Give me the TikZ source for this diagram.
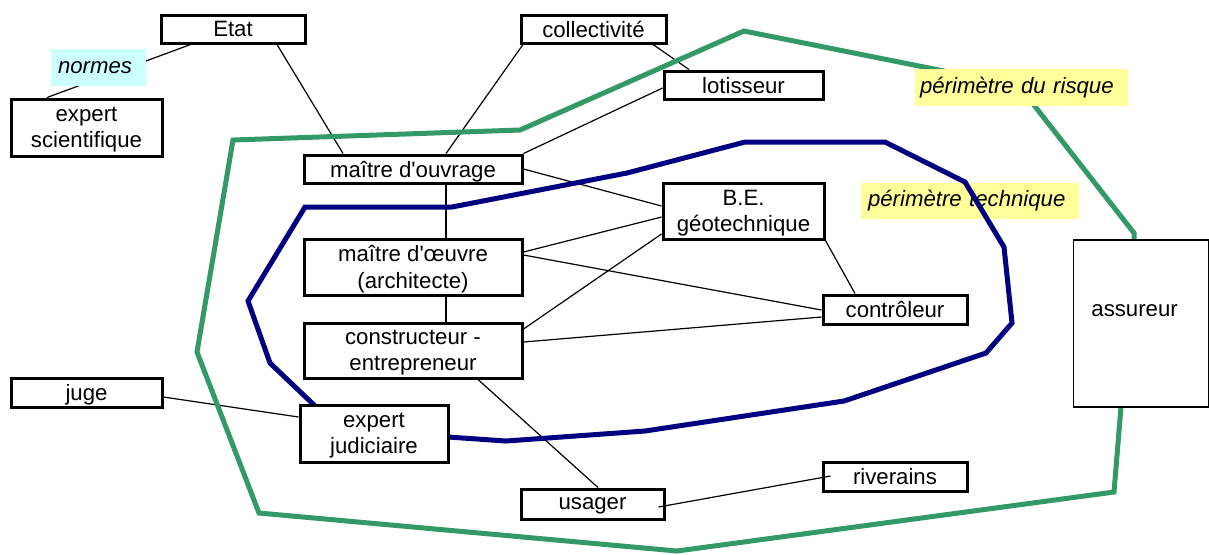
\documentclass[tikz,border=0pt]{standalone}
\usepackage{fontspec}
\setmainfont{Liberation Sans}
\usetikzlibrary{calc}
\definecolor{riskgreen}{HTML}{339966}
\definecolor{technavy}{HTML}{000080}
\definecolor{normcyan}{HTML}{CCFFFF}
\definecolor{labelyellow}{HTML}{FFFF99}
\pgfdeclarelayer{background}
\pgfsetlayers{background,main}
\begin{document}
\begin{tikzpicture}[x=0.5pt,y=-0.5pt,
  txt/.style={font=\fontsize{11.1}{13.2}\selectfont},
  box/.style={txt, draw=black, line width=1.5pt, fill=white, inner sep=0pt, align=center, text depth=0pt},
  link/.style={draw=black, line width=0.6pt},
  tag/.style={txt, font=\fontsize{11.1}{13.2}\selectfont\itshape, align=left, inner ysep=0pt},
  perim/.style={line width=2.5pt, miter limit=10},
]
\useasboundingbox (0,0) rectangle (1209,554);

% boxes
\node[box, minimum width=72pt, minimum height=14pt] (etat) at (233,29) {Etat};
\node[box, minimum width=72.5pt, minimum height=14pt] (coll) at (593.5,29) {collectivité};
\node[box, minimum width=79.5pt, minimum height=14pt] (lot) at (743.5,85) {lotisseur};
\node[box, minimum width=75.5pt, minimum height=28.5pt] (expsci) at (86.5,127.5) {expert\\scientifique};
\node[box, minimum width=109pt, minimum height=14pt] (mo) at (413,169) {maître d\textquotesingle ouvrage};
\node[box, minimum width=80.5pt, minimum height=28pt] (be) at (743.5,211) {B.E.\\géotechnique};
\node[box, minimum width=109pt, minimum height=28pt] (moe) at (413,267) {maître d\textquotesingle œuvre\\(architecte)};
\node[box, minimum width=72pt, minimum height=14.5pt] (ctrl) at (895,309.5) {contrôleur};
\node[box, minimum width=109pt, minimum height=27.5pt] (cons) at (413,350.5) {constructeur -\\entrepreneur};
\node[box, minimum width=75.5pt, minimum height=14.5pt] (juge) at (86.5,392.5) {juge};
\node[box, minimum width=74pt, minimum height=28.5pt] (expjud) at (374,433.5) {expert\\judiciaire};
\node[box, minimum width=72pt, minimum height=14.5pt] (riv) at (895,476.5) {riverains};
\node[box, minimum width=71.5pt, minimum height=15pt] (usager) at (592.5,504) {usager};
\node[draw=black, line width=0.6pt, fill=white, inner sep=0pt, minimum width=67.5pt, minimum height=83.5pt] (ass) at (1140.75,323.5) {};
\node[txt, anchor=west, inner sep=0pt] (asstext) at (1091,311) {assureur};

% label on top of connector
\node[tag, fill=normcyan, minimum height=18.5pt, inner xsep=3.5pt, text width=40.5pt] (normes) at (98.5,67.5) {normes};

\begin{pgfonlayer}{background}
% connectors
\draw[link] ($(expsci.north)+(-39.5,0)$) -- ($(etat.south)+(-37,-2)$);
\draw[link] ($(etat.south)+(44,0)$) -- ($(mo.north)+(-70,0)$);
\draw[link] ($(coll.south)+(-70.5,0)$) -- ($(mo.north)+(33,0)$);
\draw[link] ($(coll.south)+(59.5,0)$) -- ($(lot.north)+(-54.5,0)$);
\draw[link] ($(lot.west)+(0,3)$) -- (mo.north east);
\draw[link] (mo.east) -- ($(be.west)+(0,-5)$);
\draw[link] ($(mo.south)+(33,0)$) -- ($(moe.north)+(33,0)$);
\draw[link] ($(moe.south)+(33,0)$) -- ($(cons.north)+(33,0)$);
\draw[link] ($(moe.east)+(0,-15)$) -- ($(be.west)+(0,6)$);
\draw[link] ($(moe.east)+(0,-12)$) -- ($(ctrl.west)+(0,0.5)$);
\draw[link] (be.south east) -- ($(ctrl.north)+(-40,0)$);
\draw[link] ($(cons.east)+(0,-21.5)$) -- ($(be.west)+(0,23)$);
\draw[link] ($(cons.east)+(0,-8.5)$) -- ($(ctrl.west)+(0,7.5)$);
\draw[link] ($(cons.south)+(65,0)$) -- ($(usager.north)+(5.5,0)$);
\draw[link] ($(juge.east)+(0,4.5)$) -- ($(expjud.west)+(0,-16.5)$);

% perimetre du risque
\draw[perim, riskgreen] (233,140) -- (520,130) -- (744,31) -- (1019,86) -- (1134,233)
  -- (1134,240) -- (1121,407) -- (1114,492) -- (677,551) -- (259,513) -- (197,352) -- cycle;
\node[tag, fill=labelyellow, minimum height=18.5pt, inner xsep=2.5pt, text width=101.5pt] (risque) at (1021.5,87.5) {périmètre du risque};
\node[tag, fill=labelyellow, minimum height=18pt, inner xsep=3.5pt, text width=102pt] (technique) at (970,201) {périmètre technique};

% perimetre technique
\draw[perim, technavy] (305,207) -- (452,207) -- (627,173) -- (745,142) -- (885,142)
  -- (965,182) -- (1004,247) -- (1012,323) -- (986,353) -- (844,401) -- (645,431)
  -- (506,441) -- (448,437) -- (345,435) -- (313,404) -- (270,363) -- (248,301) -- cycle;
\end{pgfonlayer}

\draw[link] ($(usager.east)+(-7,3)$) -- ($(riv.west)+(9,-0.5)$);
\end{tikzpicture}
\end{document}
